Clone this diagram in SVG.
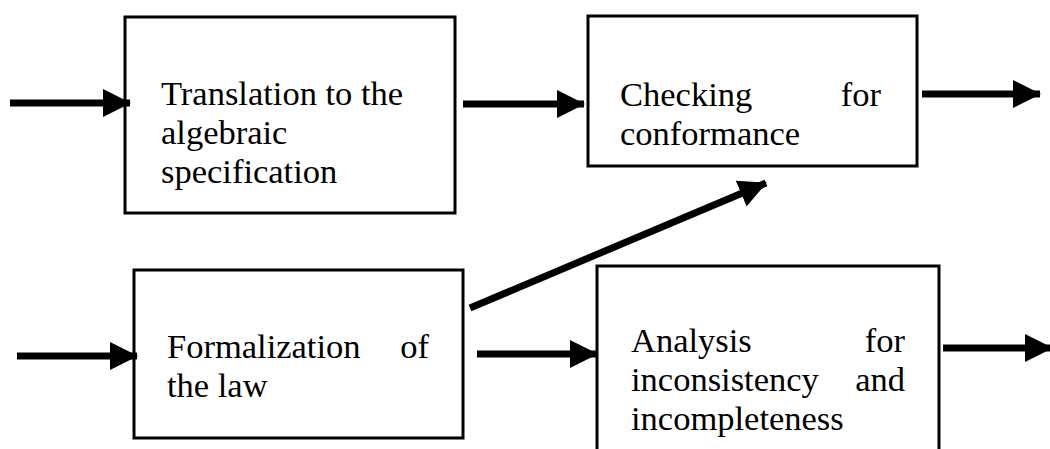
<svg xmlns="http://www.w3.org/2000/svg" width="1050" height="449" viewBox="0 0 1050 449">
<style>
.box{fill:#fff;stroke:#000;stroke-width:3}
.t{font-family:"Liberation Serif","Times New Roman",serif;font-size:34.5px;fill:#000}
.c{stroke:#000;stroke-width:7;fill:none}
</style>
<defs>
<marker id="ah" markerUnits="userSpaceOnUse" markerWidth="28" markerHeight="28" viewBox="0 0 28 28" refX="27" refY="14" orient="auto">
<path d="M0,0 L28,14 L0,28 Z" fill="#000"/>
</marker>
</defs>
<rect width="1050" height="449" fill="#fff"/>
<g id="n1">
<rect class="box" x="125" y="17" width="330" height="196"/>
<text class="t" x="161" y="105">Translation to the</text>
<text class="t" x="161" y="144">algebraic</text>
<text class="t" x="161" y="183">specification</text>
</g>
<g id="n2">
<rect class="box" x="588" y="16" width="329" height="150"/>
<text class="t" x="620" y="106">Checking</text>
<text class="t" x="881" y="106" text-anchor="end">for</text>
<text class="t" x="620" y="145">conformance</text>
</g>
<g id="n3">
<rect class="box" x="134" y="270" width="329" height="168"/>
<text class="t" x="167" y="358">Formalization</text>
<text class="t" x="429" y="358" text-anchor="end">of</text>
<text class="t" x="167" y="397">the law</text>
</g>
<g id="n4">
<rect class="box" x="597" y="266" width="342" height="200"/>
<text class="t" x="631" y="352">Analysis</text>
<text class="t" x="905" y="352" text-anchor="end">for</text>
<text class="t" x="631" y="391">inconsistency</text>
<text class="t" x="905" y="391" text-anchor="end">and</text>
<text class="t" x="631" y="430">incompleteness</text>
</g>
<g id="connectors">
<line class="c" x1="10" y1="103" x2="130" y2="103" marker-end="url(#ah)"/>
<line class="c" x1="463" y1="104" x2="584" y2="104" marker-end="url(#ah)"/>
<line class="c" x1="922" y1="94" x2="1040" y2="94" marker-end="url(#ah)"/>
<line class="c" x1="17" y1="356" x2="137" y2="356" marker-end="url(#ah)"/>
<line class="c" x1="477" y1="354" x2="597" y2="354" marker-end="url(#ah)"/>
<line class="c" x1="943" y1="348" x2="1052" y2="348" marker-end="url(#ah)"/>
<line class="c" x1="470" y1="308" x2="766" y2="183" marker-end="url(#ah)"/>
</g>
</svg>
